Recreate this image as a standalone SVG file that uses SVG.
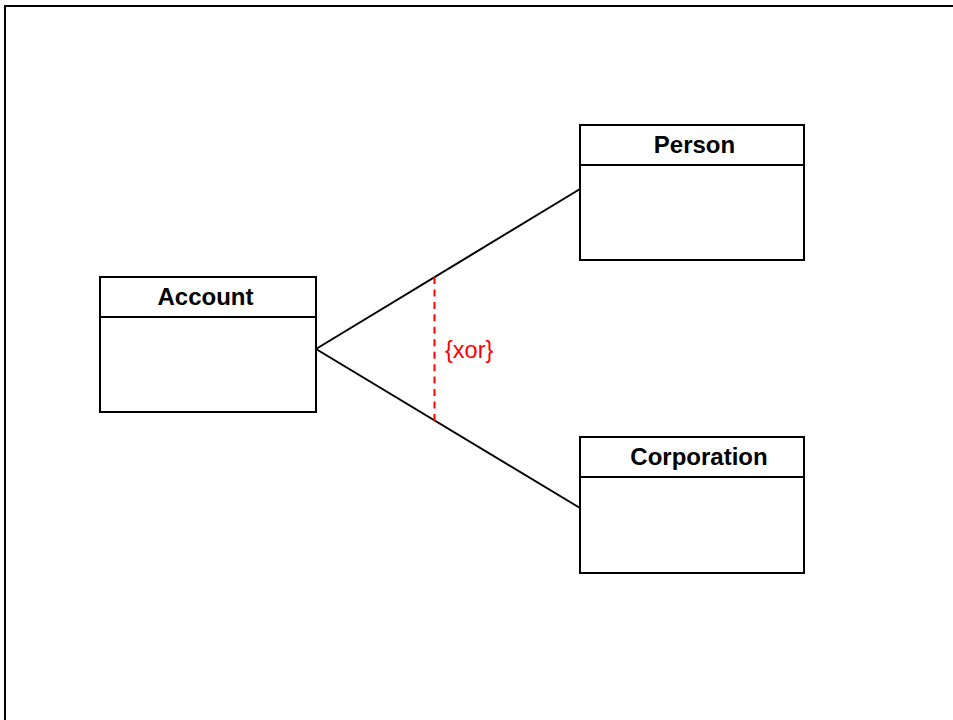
<svg xmlns="http://www.w3.org/2000/svg" width="953" height="720" viewBox="0 0 953 720">
  <style>
    .box { fill: #ffffff; stroke: #000000; stroke-width: 2; }
    .div { stroke: #000000; stroke-width: 2; }
    .title { font-family: "Liberation Sans", Arial, sans-serif; font-weight: bold; font-size: 24px; fill: #000000; }
    .assoc { stroke: #000000; stroke-width: 2; fill: none; }
    .constraint { stroke: #ff0000; stroke-width: 2; stroke-dasharray: 7 5.45; fill: none; }
    .clabel { font-family: "Liberation Sans", Arial, sans-serif; font-size: 23.5px; fill: #ff0000; }
  </style>
  <rect width="953" height="720" fill="#ffffff"/>
  <!-- diagram frame -->
  <path d="M5,720 V6 H953" fill="none" stroke="#000000" stroke-width="2"/>

  <g id="connectors">
    <line class="assoc" x1="316" y1="349" x2="580" y2="189"/>
    <line class="assoc" x1="316" y1="349" x2="580" y2="508"/>
    <!-- xor constraint across both associations -->
    <line class="constraint" x1="434.5" y1="277" x2="434.5" y2="421"/>
    <text class="clabel" x="445" y="358">{xor}</text>
  </g>

  <g id="account">
    <rect class="box" x="100" y="277" width="216" height="135"/>
    <line class="div" x1="100" y1="317" x2="316" y2="317"/>
    <text class="title" x="205.5" y="305" text-anchor="middle">Account</text>
  </g>

  <g id="person">
    <rect class="box" x="580" y="125" width="224" height="135"/>
    <line class="div" x1="580" y1="165" x2="804" y2="165"/>
    <text class="title" x="694.5" y="153" text-anchor="middle">Person</text>
  </g>

  <g id="corporation">
    <rect class="box" x="580" y="437" width="224" height="136"/>
    <line class="div" x1="580" y1="477" x2="804" y2="477"/>
    <text class="title" x="699" y="465" text-anchor="middle">Corporation</text>
  </g>
</svg>
